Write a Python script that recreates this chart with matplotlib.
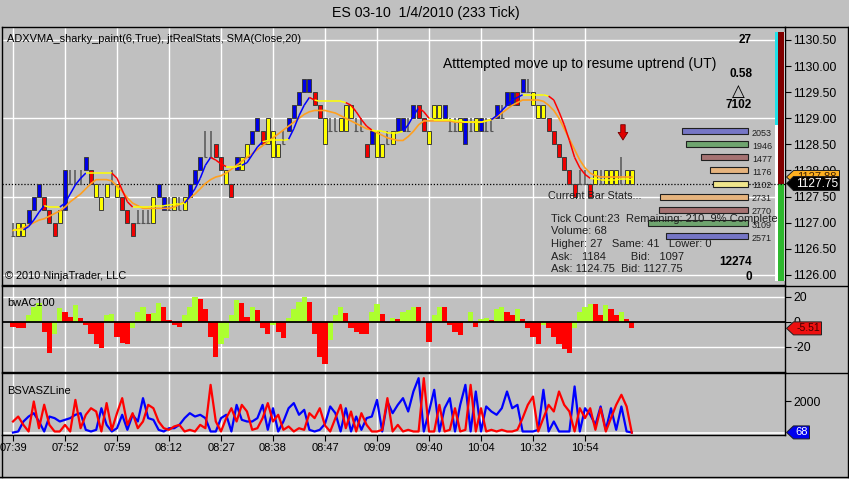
import numpy as np
import matplotlib.pyplot as plt
from matplotlib.collections import LineCollection
from matplotlib.patches import Polygon
from matplotlib.lines import Line2D

plt.rcParams['font.family'] = ['Liberation Sans', 'DejaVu Sans']

W, H = 849, 479
BG = '#C0C0C0'

# ---------------- data ----------------
base_price = 1126.00
tick = 0.25
last_price = 1127.75

# b = blue (up), r = red (down), y = yellow (neutral), g = grey doji
bar_color = list("gyybbbrrry" "bgggbryyyg" "yrrrgggybb" "gygybbbggr" "ryrbyybbry"
                 "yygbbbbbrr" "yggyyyggrb" "yygybbgbrr" "yyybggybgy" "bggbgbbrbg"
                 "yyyrrrrrrg" "grygyyygyy")

# body low / high in ticks above 1126.00
body_lo = [3, 3, 3, 4, 5, 6, 5, 4, 3, 4,
           5, 7, 7, 7, 8, 7, 6, 5, 6, 7,
           6, 5, 4, 3, 4, 4, 4, 4, 6, 5,
           5, 5, 5, 5, 6, 7, 8, 9, 9, 9,
           8, 7, 6, 8, 8, 9, 10, 11, 10, 10,
           9, 9, 10, 11, 12, 13, 14, 14, 13, 12,
           10, 11, 11, 11, 11, 12, 11, 11, 9, 10,
           9, 9, 10, 10, 11, 11, 11, 12, 12, 11,
           10, 12, 12, 12, 11, 11, 11, 10, 11, 11,
           11, 11, 11, 12, 12, 13, 13, 13, 14, 14,
           13, 12, 12, 11, 10, 9, 8, 7, 6, 7,
           7, 6, 7, 7, 7, 7, 7, 7, 7, 7]
body_hi = [4, 4, 4, 5, 6, 7, 6, 5, 4, 5,
           8, 8, 8, 8, 9, 8, 7, 6, 7, 8,
           7, 6, 5, 4, 5, 5, 5, 6, 7, 6,
           6, 6, 6, 6, 7, 8, 9, 11, 11, 10,
           9, 8, 7, 9, 9, 10, 11, 12, 11, 12,
           11, 10, 11, 12, 13, 14, 15, 15, 14, 13,
           12, 12, 12, 12, 13, 13, 12, 12, 10, 11,
           11, 10, 11, 11, 12, 12, 12, 13, 13, 12,
           11, 13, 13, 13, 12, 12, 12, 12, 12, 12,
           12, 12, 12, 13, 13, 14, 14, 14, 15, 15,
           14, 13, 13, 12, 11, 10, 9, 8, 7, 8,
           8, 7, 8, 8, 8, 8, 8, 9, 8, 8]

adxvma_ticks = [3.45, 3.45, 3.45, 3.7, 4.2, 4.8, 5.3, 5.2, 5.2, 5.2,
                5.5, 6.2, 6.9, 7.4, 7.8, 7.8, 7.8, 7.8, 7.8, 7.8,
                7.4, 6.5, 5.6, 5.2, 5.2, 5.2, 5.2, 5.25, 5.3, 5.3,
                5.35, 5.4, 5.4, 5.5, 6.0, 6.6, 7.4, 8.4, 9.0, 8.8,
                8.5, 8.3, 8.3, 8.3, 8.4, 8.6, 9.2, 9.8, 10.2, 10.3,
                10.3, 10.3, 10.3, 10.4, 11.2, 12.2, 13.0, 13.6, 13.4, 13.3,
                13.3, 13.3, 13.3, 13.3, 13.2, 13.0, 12.5, 11.9, 11.4, 11.1,
                11.0, 11.0, 10.9, 10.9, 10.9, 11.0, 11.5, 12.2, 12.8, 12.5,
                12.0, 11.9, 11.9, 11.9, 11.9, 11.8, 11.8, 11.7, 11.7, 11.7,
                11.7, 11.8, 11.9, 12.2, 12.6, 13.0, 13.4, 13.6, 13.8, 13.8,
                13.8, 13.8, 13.8, 13.7, 13.4, 12.5, 11.5, 10.3, 9.0, 8.2,
                7.7, 7.4, 7.35, 7.3, 7.3, 7.3, 7.3, 7.35, 7.35, 7.3]

sma_ticks = [3.4, 3.5, 3.6, 3.8, 4.0, 4.2, 4.3, 4.5, 4.7, 4.9,
             5.2, 5.6, 5.9, 6.2, 6.6, 7.0, 7.3, 7.3, 7.3, 7.2,
             6.8, 6.4, 5.9, 5.5, 5.3, 5.1, 5.1, 5.1, 5.1, 5.1,
             5.1, 5.2, 5.4, 5.6, 5.9, 6.2, 6.6, 7.0, 7.3, 7.5,
             7.6, 7.8, 8.1, 8.4, 8.7, 9.0, 9.3, 9.6, 9.9, 10.2,
             10.5, 10.8, 11.1, 11.4, 11.7, 12.0, 12.3, 12.5, 12.6, 12.6,
             12.6, 12.5, 12.4, 12.2, 12.0, 11.8, 11.6, 11.4, 11.2, 11.1,
             10.9, 10.7, 10.5, 10.4, 10.3, 10.3, 10.6, 11.0, 11.5, 11.8,
             11.8, 11.8, 11.8, 11.8, 11.8, 11.7, 11.7, 11.7, 11.7, 11.7,
             11.7, 11.8, 11.9, 12.1, 12.4, 12.7, 13.0, 13.2, 13.4, 13.4,
             13.4, 13.4, 13.3, 13.0, 12.6, 12.0, 11.2, 10.4, 9.6, 8.8,
             8.2, 7.8, 7.6, 7.5, 7.5, 7.5, 7.5, 7.5, 7.5, 7.5]

ac_values = [-4, -5, -5, 5, 12, 15, -8, -25, -10, 11,
             8, 4, 13, 3, -3, -10, -18, -21, 5, 6,
             -12, -17, -18, -5, 8, 12, 6, 7, 15, 12,
             1, -3, -4, 5, 12, 20, 18, 10, -12, -28,
             -18, -13, 5, 17, 15, 4, 12, 9, -5, -10,
             -3, -8, -13, 3, 10, 16, 20, 16, -10, -28,
             -34, -15, 5, 12, 7, -5, -8, -10, -10, 8,
             14, 6, -1, 3, 2, 8, 9, 12, 12, 0,
             -16, 5, 12, 12, -3, -8, -11, 0, 8, -4,
             2, 3, 1, 10, 12, 8, 5, 10, 2, -5,
             -12, -18, -3, -5, -12, -18, -22, -25, -5, 8,
             12, 14, 14, 5, 13, 10, 5, 8, 2, -5.51]

bsv_blue = [60, 125, 750, 1060, 1270, 750, 125, 1060, 960, 750,
            855, 960, 1170, 1270, 230, 125, 230, 1580, 540, 125,
            330, 1170, 230, 1170, 750, 2210, 960, 855, 230, 125,
            330, 330, 540, 960, 1270, 1060, 1170, 960, 125, 125,
            960, 1170, 125, 1790, 855, 750, 750, 960, 1790, 230,
            1580, 125, 750, 1580, 1900, 1170, 1480, 230, 125, 230,
            600, 1690, 1270, 125, 1580, 125, 1060, 230, 960, 1060,
            2100, 125, 2000, 1270, 1790, 2210, 1375, 2625, 3460, 125,
            1375, 2730, 125, 1580, 2210, 125, 1790, 3040, 125, 2625,
            125, 1690, 1375, 1170, 1580, 2625, 1580, 1790, 125, 125,
            125, 230, 2730, 125, 750, 125, 125, 125, 2940, 125,
            1580, 1170, 540, 1690, 230, 1580, 230, 1690, 125, 68]
bsv_red = [750, 1060, 540, 125, 2000, 330, 1800, 540, 125, 125,
           540, 125, 2100, 330, 1170, 1580, 1375, 125, 1900, 230,
           1270, 2210, 540, 1270, 330, 750, 1790, 1580, 750, 330,
           230, 440, 540, 125, 230, 125, 540, 330, 3040, 750,
           125, 960, 1580, 750, 1790, 1375, 230, 330, 960, 1900,
           750, 1170, 230, 440, 125, 330, 230, 1270, 960, 1580,
           500, 125, 960, 1790, 330, 1375, 125, 1270, 540, 125,
           125, 230, 2210, 125, 540, 125, 230, 125, 125, 3460,
           125, 125, 1790, 125, 230, 1580, 125, 230, 3040, 125,
           1580, 125, 230, 125, 230, 125, 125, 230, 960, 1790,
           2310, 125, 960, 1790, 1375, 2625, 1790, 1375, 125, 1580,
           960, 1580, 230, 1580, 125, 960, 1790, 2420, 1690, 50]

time_labels = ['07:39', '07:52', '07:59', '08:12', '08:27', '08:38',
               '08:47', '09:09', '09:40', '10:04', '10:32', '10:54']

ladder_price = [1128.75, 1128.50, 1128.25, 1128.00, 1127.75,
                1127.50, 1127.25, 1127.00, 1126.75]
ladder_vol = [2053, 1946, 1477, 1176, 1102, 2731, 2770, 3109, 2571]
ladder_col = ['#7676C6', '#6FA46F', '#A67272', '#E6B47E', '#F0E68C',
              '#E6B47E', '#A67272', '#6FA46F', '#7676C6']

stats_lines = ['Tick Count:23  Remaining: 210  9% Complete',
               'Volume: 68',
               'Higher: 27   Same: 41   Lower: 0',
               'Ask:   1184        Bid:   1097',
               'Ask: 1124.75  Bid: 1127.75']

# ---------------- figure ----------------
fig = plt.figure(figsize=(W / 100, H / 100), dpi=100, facecolor=BG)


def box(left, top, right, bottom):
    return [left / W, 1 - bottom / H, (right - left) / W, (bottom - top) / H]


def ptext(x, y, s, **kw):
    kw.setdefault('va', 'center')
    return fig.text(x / W, 1 - y / H, s, **kw)


ax = fig.add_axes(box(2, 27, 785, 285), facecolor=BG)
ax_ac = fig.add_axes(box(2, 286, 785, 372), facecolor=BG)
ax_bsv = fig.add_axes(box(2, 373, 785, 435), facecolor=BG)

idx = np.arange(len(bar_color))
xlim = (-2.115, 148.46)
for a in (ax, ax_ac, ax_bsv):
    a.set_xlim(*xlim)
    a.set_xticks(range(0, 120, 10))
    a.grid(axis='x', color='white', lw=1)
    a.set_axisbelow(True)
    a.yaxis.tick_right()
    a.tick_params(axis='y', direction='out', length=4, pad=2, labelsize=8.8)
    a.tick_params(axis='x', length=0, labelbottom=False)
    for s in a.spines.values():
        s.set_color('black')
        s.set_linewidth(1)

# ---- price panel ----
ax.set_ylim(1125.806, 1130.749)
ax.set_yticks(np.arange(1126.0, 1130.51, 0.5))
ax.set_yticklabels([f'{v:.2f}' for v in np.arange(1126.0, 1130.51, 0.5)])
for lvl in (1126.0, 1127.5, 1129.0, 1130.5):
    ax.axhline(lvl, color='white', lw=1, zorder=0.6)

lo = base_price + tick * np.array(body_lo)
hi = base_price + tick * np.array(body_hi)
cmap = {'b': '#0000E6', 'r': '#F00000', 'y': '#FFFF00'}
solid = np.array([i for i, c in enumerate(bar_color) if c != 'g'])
doji = np.array([i for i, c in enumerate(bar_color) if c == 'g'])
ax.vlines(idx[doji], lo[doji], hi[doji], color='#555555', lw=1.1, zorder=3)
ax.hlines(lo[doji], idx[doji] - 0.35, idx[doji] + 0.35, color='#555555', lw=0.8, zorder=3)
ax.bar(idx[solid], (hi - lo)[solid], bottom=lo[solid], width=0.8,
       color=[cmap[bar_color[i]] for i in solid], edgecolor='#3C3C3C',
       linewidth=0.7, zorder=3)

sma = base_price + tick * np.array(sma_ticks)
ax.plot(idx, sma, color='#FFA020', lw=1.2, zorder=4)

adx = base_price + tick * np.array(adxvma_ticks)
pts = np.column_stack([idx, adx])
segs = np.stack([pts[:-1], pts[1:]], axis=1)
slope = np.diff(adxvma_ticks)
seg_cols = ['#0000FF' if d > 0.12 else '#FF0000' if d < -0.12 else '#FFFF00' for d in slope]
ax.add_collection(LineCollection(segs, colors=seg_cols, linewidths=1.1, zorder=5))

ax.axhline(last_price, color='black', ls=(0, (1, 1.5)), lw=0.9, zorder=2.5)

# volume ladder
ladder_right = 141.35
per_vol = 0.00617
lv = np.array(ladder_vol) * per_vol
ax.barh(ladder_price, lv, left=ladder_right - lv, height=0.115, color=ladder_col,
        edgecolor='#202020', linewidth=0.8, zorder=6)
for p, v in zip(ladder_price, ladder_vol):
    ax.text(ladder_right + 0.75, p - 0.045, str(v), fontsize=6.5, va='center',
            color='#202020', zorder=7)

# pressure strip
strip_top, strip_bottom = 1130.653, 1125.883
ax.bar(147.5, strip_top - strip_bottom, bottom=strip_bottom, width=1.92,
       color='white', zorder=2)
ax.bar(146.8, strip_top - 1128.87, bottom=1128.87, width=0.52, color='#20E0E8', zorder=2.2)
ax.bar(147.67, strip_top - last_price, bottom=last_price, width=1.21, color='#800000', zorder=2.2)
ax.bar(147.67, last_price - strip_bottom, bottom=strip_bottom, width=1.21, color='#2EB82E', zorder=2.2)

ax.annotate('', xy=(117.3, 1128.53), xytext=(117.3, 1128.93),
            arrowprops=dict(arrowstyle='simple,head_length=0.55,head_width=0.7,tail_width=0.32',
                            fc='#E00000', ec='#700000', lw=0.6), zorder=8)

# ---- bwAC100 panel ----
ax_ac.set_ylim(-40.4, 28.4)
ax_ac.set_yticks([-20, 0, 20])
ax_ac.set_yticklabels(['-20', '0', '20'])
ac = np.array(ac_values)
ac_cols = ['#ADFF2F' if i > 0 and ac[i] > ac[i - 1] else '#FF0000' for i in range(len(ac))]
ax_ac.bar(idx, ac, width=1.0, color=ac_cols, linewidth=0, zorder=3)
for lvl in (-20, 20):
    ax_ac.axhline(lvl, color='white', lw=1, zorder=0.6)
ax_ac.axhline(0, color='black', lw=1.3, zorder=4)

# ---- BSVASZLine panel ----
ax_bsv.set_ylim(-94, 3781)
ax_bsv.set_yticks([2000])
ax_bsv.set_yticklabels(['2000'])
ax_bsv.axhline(0, color='white', lw=1.2, zorder=0.6)
ax_bsv.plot(idx, bsv_blue, color='#0000FF', lw=1.6, zorder=3)
ax_bsv.plot(idx, bsv_red, color='#FF0000', lw=1.6, zorder=4)
ax_bsv.tick_params(axis='x', length=4, direction='out', labelbottom=True, labelsize=8, pad=2)
ax_bsv.set_xticklabels(time_labels)


# ---- value tags on the right axis ----
def value_tag(axis, value, text, face, tcolor, width, height=13, fs=8):
    y = H - axis.transData.transform((0, value))[1]
    x0 = 786.5
    pts = [(x0, y), (x0 + 7, y - height / 2), (x0 + width, y - height / 2),
           (x0 + width, y + height / 2), (x0 + 7, y + height / 2)]
    fig.add_artist(Polygon([(px / W, 1 - py / H) for px, py in pts], closed=True,
                           transform=fig.transFigure, fc=face, ec='#202020', lw=0.7))
    ptext(x0 + 4 + width / 2, y, text, ha='center', fontsize=fs, color=tcolor)


value_tag(ax, sma[-1], f'{sma[-1]:.2f}', '#FFB020', '#402000', 53, 13)
value_tag(ax, last_price, f'{last_price:.2f}', 'black', 'white', 53, 14, 8.6)
value_tag(ax_ac, ac[-1], f'{ac[-1]:.2f}', '#EE1010', '#400000', 35, 13, 7.5)
value_tag(ax_bsv, bsv_blue[-1], str(bsv_blue[-1]), '#0000EE', 'white', 23, 13, 8)

# ---- frame lines ----
for (x1, y1, x2, y2) in [(785, 27, 849, 27), (785, 285.5, 849, 285.5),
                         (785, 372.5, 849, 372.5), (847.5, 27, 847.5, 477),
                         (0, 477, 849, 477), (1.5, 435, 1.5, 477)]:
    fig.add_artist(Line2D([x1 / W, x2 / W], [1 - y1 / H, 1 - y2 / H], color='black', lw=1))

# ---- texts ----
ptext(426, 13, 'ES 03-10  1/4/2010 (233 Tick)', ha='center', fontsize=10.2)
ptext(7, 39, 'ADXVMA_sharky_paint(6,True), jtRealStats, SMA(Close,20)', fontsize=7.9)
ptext(5, 276, '\u00a9 2010 NinjaTrader, LLC', fontsize=7.9)
ptext(443, 64, 'Atttempted move up to resume uptrend (UT)', fontsize=10)
ptext(7, 303, 'bwAC100', fontsize=7.9)
ptext(7, 391, 'BSVASZLine', fontsize=7.9)

ptext(752, 40, '27', ha='right', fontsize=8.5, fontweight='bold')
ptext(752, 74, '0.58', ha='right', fontsize=8.5, fontweight='bold')
ptext(738, 91, '\u25b3', ha='center', fontsize=12, family=['DejaVu Sans'])
ptext(752, 105, '7102', ha='right', fontsize=8.5, fontweight='bold')
ptext(752, 262, '12274', ha='right', fontsize=8.5, fontweight='bold')
ptext(752, 277, '0', ha='right', fontsize=8.5, fontweight='bold')

ptext(548, 196, 'Current Bar Stats...', fontsize=7.8, color='#202020')
for k, line in enumerate(stats_lines):
    ptext(551, 219 + 12.5 * k, line, fontsize=8, color='#202020')

fig.savefig('out.png', dpi=100, facecolor=BG)
